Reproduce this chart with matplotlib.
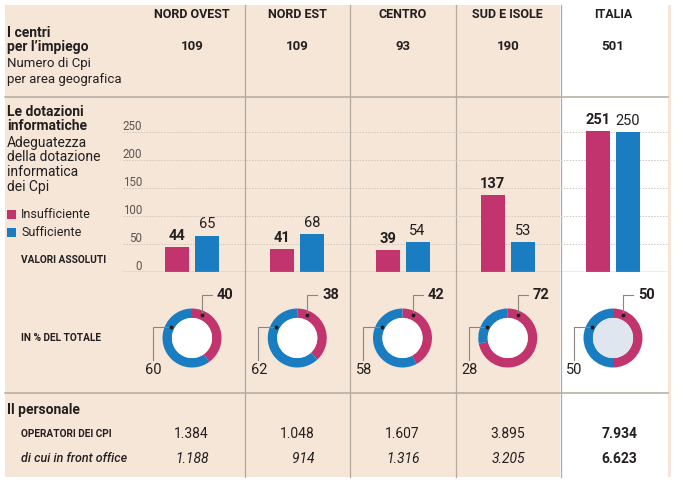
import numpy as np, matplotlib
matplotlib.use("Agg")
import matplotlib.pyplot as plt
import matplotlib.transforms as mtransforms

# ---------------------------------------------------------------------------
# Centri per l'impiego: numero, dotazioni informatiche, personale per area
# ---------------------------------------------------------------------------
regions = ['NORD OVEST', 'NORD EST', 'CENTRO', 'SUD E ISOLE', 'ITALIA']
n_cpi = [109, 109, 93, 190, 501]
insuff = [44, 41, 39, 137, 251]
suff = [65, 68, 54, 53, 250]
pct_insuff = [40, 38, 42, 72, 50]
pct_suff = [60, 62, 58, 28, 50]
operatori = [1384, 1048, 1607, 3895, 7934]
front_office = [1188, 914, 1316, 3205, 6623]
yticks = [0, 50, 100, 150, 200, 250]

plt.rcParams['font.family'] = ['Roboto', 'DejaVu Sans']
W, H = 683, 487
BEIGE, WHITE = '#f5e6d8', '#ffffff'
MAG, BLU = '#c1346d', '#1a7dc1'
LINE, INK, GREY = '#b3a99f', '#231f20', '#5a5550'
fmt = lambda v: f"{v:,}".replace(',', '.')

fig = plt.figure(figsize=(W/100, H/100), dpi=100)
fig.patch.set_facecolor('white')
ax = fig.add_axes([0, 0, 1, 1]); ax.set_xlim(0, W); ax.set_ylim(H, 0); ax.axis('off')

# layout in pixels
cx = 192 + 105.25*np.arange(5)          # column centres
top, bot, left, right = 5, 477, 5, 671
ax.add_patch(plt.Rectangle((left, top), right-left, bot-top, fc=BEIGE, ec='none', zorder=0))
ax.add_patch(plt.Rectangle((cx[4]-53, top), 108, bot-top, fc=WHITE, ec='none', zorder=0.5))
for x in cx[:4] + 53:
    ax.plot([x, x], [top, bot], color=LINE, lw=0.9, zorder=1)
for y in [97, 393]:
    ax.plot([left, 668], [y, y], color=LINE, lw=1.1, zorder=1)

# header
for x, r, n in zip(cx, regions, n_cpi):
    ax.text(x, 15, r, ha='center', va='center', fontsize=9, fontweight='bold', color=INK)
    ax.text(x, 47, str(n), ha='center', va='center', fontsize=9.5, fontweight='bold', color=INK)

def lines(x, ys, txts, **kw):
    for y, t in zip(ys, txts):
        ax.text(x, y, t, ha='left', va='center', color=INK, **kw)
lines(7, [33, 47], ['I centri', "per l\u2019impiego"], fontsize=10, fontweight='bold')
lines(7, [63, 80], ['Numero di Cpi', 'per area geografica'], fontsize=9.5)
lines(7, [112, 126], ['Le dotazioni', 'informatiche'], fontsize=10, fontweight='bold')
lines(7, [143, 157, 172, 187], ['Adeguatezza', 'della dotazione', 'informatica', 'dei Cpi'], fontsize=10)
for y, c, t in [(214, MAG, 'Insufficiente'), (232, BLU, 'Sufficiente')]:
    ax.add_patch(plt.Rectangle((7, y-4.5), 9, 9, fc=c, ec='none'))
    ax.text(21, y, t, ha='left', va='center', fontsize=9, color=INK)
ax.text(21, 260, 'VALORI ASSOLUTI', ha='left', va='center', fontsize=7.3, fontweight='bold', color=INK)
ax.text(21, 338, 'IN % DEL TOTALE', ha='left', va='center', fontsize=7.3, fontweight='bold', color=INK)
ax.text(7, 410, 'Il personale', ha='left', va='center', fontsize=10, fontweight='bold', color=INK)
ax.text(21, 434, 'OPERATORI DEI CPI', ha='left', va='center', fontsize=7.3, fontweight='bold', color=INK)
ax.text(21, 459, 'di cui in front office', ha='left', va='center', fontsize=9, style='italic',
        fontweight='medium', color=INK)
for i, (a, b) in enumerate(zip(operatori, front_office)):
    w = 'bold' if i == 4 else 'normal'
    xr = cx[i] + (24 if i == 4 else 17)
    ax.text(xr, 434, fmt(a), ha='right', va='center', fontsize=10, fontweight=w, color=INK)
    ax.text(xr, 459, fmt(b), ha='right', va='center', fontsize=10, fontweight=w,
            style='normal' if i == 4 else 'italic', color=INK)

# ---- bars ----
px0, px1, py_top, py0 = 123, 668, 100, 272
scale = 140/250                          # px per unit
bax = fig.add_axes([px0/W, (H-py0)/H, (px1-px0)/W, (py0-py_top)/H])
bax.set_xlim((px0-192)/105.25, (px1-192)/105.25); bax.set_ylim(0, (py0-py_top)/scale)
bax.axis('off'); bax.patch.set_alpha(0)
for v in yticks[1:]:
    bax.axhline(v, color='#cfc6bd', lw=0.7, ls=(0, (1.5, 1.5)), zorder=0)
bax.axhline(0, color='#a59c93', lw=1.0, zorder=3)
blend = mtransforms.blended_transform_factory(ax.transData, bax.transData)
for v in yticks:
    bax.text(142, v + 5/scale, str(v), transform=blend, ha='right', va='center', fontsize=8.3, color=GREY)
pos = np.arange(5)
off, bw = 15/105.25, 24/105.25
bax.bar(pos - off, insuff, bw, color=MAG, zorder=2)
bax.bar(pos + off, suff, bw, color=BLU, zorder=2)
for p, a, b in zip(pos, insuff, suff):
    bax.annotate(str(a), (p - off, a), xytext=(0, 3), textcoords='offset points', ha='center', va='bottom',
                 fontsize=10.5, fontweight='bold', color=INK)
    bax.annotate(str(b), (p + off, b), xytext=(0, 3), textcoords='offset points', ha='center', va='bottom',
                 fontsize=10.5, color=INK)

# ---- donuts ----
R, cy = 29.5, 338
for i in range(5):
    dax = fig.add_axes([(cx[i]-R)/W, (H-cy-R)/H, 2*R/W, 2*R/H])
    dax.pie([pct_insuff[i], pct_suff[i]], colors=[MAG, BLU], startangle=90, counterclock=False,
            wedgeprops=dict(width=0.32, edgecolor='none'))
    dax.add_patch(plt.Circle((0, 0), 0.68, fc='#dfe6f0' if i == 4 else WHITE, ec='none'))
    dax.set_xlim(-1, 1); dax.set_ylim(-1, 1); dax.set_aspect('auto'); dax.axis('off')
    dax.plot([0.34, 0.34, 0.68], [0.78, 1.46, 1.46], color='#8c8580', lw=0.8, clip_on=False)
    dax.plot([-0.71, -1.33, -1.33], [0.37, 0.37, -0.75], color='#8c8580', lw=0.8, clip_on=False)
    dax.plot([0.34, -0.71], [0.78, 0.37], 'o', ms=1.8, color=INK, clip_on=False)
    dax.text(0.85, 1.46, str(pct_insuff[i]), ha='left', va='center', fontsize=10.5, fontweight='bold', color=INK)
    dax.text(-1.30, -1.08, str(pct_suff[i]), ha='center', va='center', fontsize=10.5, color=INK)

fig.savefig('out.png', dpi=100)
